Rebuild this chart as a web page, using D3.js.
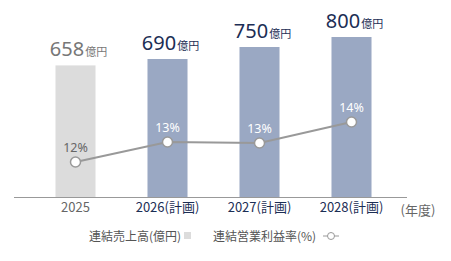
<!DOCTYPE html>
<html>
<head>
<meta charset="utf-8">
<script src="https://d3js.org/d3.v7.min.js"></script>
<style>
  body { margin: 0; background: #fff; }
  svg { display: block; font-family: "Noto Sans", "Noto Sans CJK JP", sans-serif; }
</style>
</head>
<body>
<svg id="chart" width="451" height="261"></svg>
<script>
// data
var years = ["2025", "2026", "2027", "2028"];
var yearLabels = ["2025", "2026(計画)", "2027(計画)", "2028(計画)"];
var planned = [false, true, true, true];
var sales = [658, 690, 750, 800];          // 億円
var margins = [12, 13, 12.95, 14];         // %
var marginLabels = ["12%", "13%", "13%", "14%"];

var navy = "#1c2e55", gray = "#777";

var svg = d3.select("#chart");

var x = d3.scaleBand()
    .domain(years)
    .range([29.5, 397.5])
    .paddingInner(0.565)
    .paddingOuter(0.2825);

var baseY = 197;
var y = d3.scaleLinear().domain([0, 800]).range([baseY, 37]);
var y2 = d3.scaleLinear().domain([12, 14]).range([162, 122]);

// bars
svg.append("g").selectAll("rect")
    .data(years)
    .enter().append("rect")
    .attr("x", function(d) { return x(d); })
    .attr("width", x.bandwidth())
    .attr("y", function(d, i) { return y(sales[i]); })
    .attr("height", function(d, i) { return baseY - y(sales[i]); })
    .attr("fill", function(d, i) { return planned[i] ? "#9aa8c3" : "#dcdcdc"; });

// value labels
var vl = svg.append("g").selectAll("text")
    .data(years)
    .enter().append("text")
    .attr("x", function(d) { return x(d) + x.bandwidth() / 2 + 3; })
    .attr("y", function(d, i) { return y(sales[i]) - 9; })
    .attr("text-anchor", "middle")
    .attr("fill", function(d, i) { return planned[i] ? navy : gray; });
vl.append("tspan")
    .attr("font-size", 20)
    .text(function(d, i) { return sales[i]; });
vl.append("tspan")
    .attr("font-size", 11)
    .attr("font-family", "Noto Sans CJK JP")
    .attr("dx", 1)
    .text("億円");

// axis
var axis = svg.append("g")
    .attr("transform", "translate(0," + baseY + ")")
    .call(d3.axisBottom(x).tickSize(0).tickPadding(6)
        .tickFormat(function(d, i) { return yearLabels[i]; }));
axis.select(".domain").attr("d", "M14,0.5H407").attr("stroke", "#999");
axis.selectAll(".tick text")
    .attr("font-size", 13)
    .attr("font-family", "Noto Sans CJK JP")
    .attr("fill", function(d, i) { return planned[i] ? navy : "#666"; });

svg.append("text")
    .attr("x", 418).attr("y", 215)
    .attr("text-anchor", "middle")
    .attr("font-size", 13)
    .attr("font-family", "Noto Sans CJK JP")
    .attr("fill", "#666")
    .text("(年度)");

// margin line
var cx = function(d, i) { return x(years[i]) + x.bandwidth() / 2; };
svg.append("path")
    .datum(margins)
    .attr("fill", "none")
    .attr("stroke", "#999")
    .attr("stroke-width", 2)
    .attr("d", d3.line().x(cx).y(function(d) { return y2(d); }));

svg.append("g").selectAll("circle")
    .data(margins)
    .enter().append("circle")
    .attr("cx", cx)
    .attr("cy", function(d) { return y2(d); })
    .attr("r", 5)
    .attr("fill", "#fff")
    .attr("stroke", "#999")
    .attr("stroke-width", 1.5);

svg.append("g").selectAll("text")
    .data(margins)
    .enter().append("text")
    .attr("x", cx)
    .attr("y", function(d) { return y2(d) - 10; })
    .attr("text-anchor", "middle")
    .attr("font-size", 12.5)
    .attr("fill", function(d, i) { return planned[i] ? "#fff" : "#666"; })
    .text(function(d, i) { return marginLabels[i]; });

// legend
var lg = svg.append("g")
    .attr("font-family", "Noto Sans CJK JP")
    .attr("font-size", 12)
    .attr("fill", "#555");
lg.append("text").attr("x", 181).attr("y", 241).attr("text-anchor", "end").text("連結売上高(億円)");
lg.append("rect").attr("x", 184).attr("y", 232).attr("width", 7).attr("height", 7).attr("fill", "#dcdcdc");
lg.append("text").attr("x", 213).attr("y", 241).text("連結営業利益率(%)");
lg.append("line").attr("x1", 323).attr("x2", 339).attr("y1", 236).attr("y2", 236)
    .attr("stroke", "#999").attr("stroke-width", 1);
lg.append("circle").attr("cx", 331).attr("cy", 236).attr("r", 3.5)
    .attr("fill", "#fff").attr("stroke", "#999");
</script>
</body>
</html>
